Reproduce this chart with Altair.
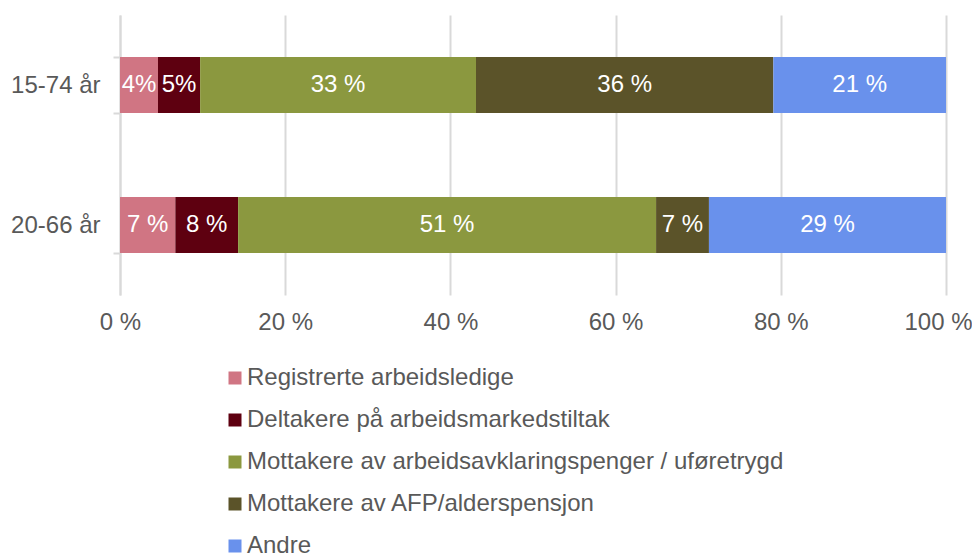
import altair as alt
import pandas as pd

groups = ["15-74 år", "20-66 år"]
categories = [
    "Registrerte arbeidsledige",
    "Deltakere på arbeidsmarkedstiltak",
    "Mottakere av arbeidsavklaringspenger / uføretrygd",
    "Mottakere av AFP/alderspensjon",
    "Andre",
]
colors = ["#D07583", "#5E0010", "#8B983F", "#5B5329", "#6991EC"]
values_15_74 = [4.6, 5.1, 33.4, 36.0, 20.9]
values_20_66 = [6.7, 7.6, 50.6, 6.4, 28.7]
labels_15_74 = ["4%", "5%", "33 %", "36 %", "21 %"]
labels_20_66 = ["7 %", "8 %", "51 %", "7 %", "29 %"]
x_ticks = [0, 20, 40, 60, 80, 100]

rows = []
for g, vals, labs in [(groups[0], values_15_74, labels_15_74), (groups[1], values_20_66, labels_20_66)]:
    for i, (c, v, l) in enumerate(zip(categories, vals, labs)):
        rows.append({"group": g, "category": c, "value": v, "label": l, "order": i})
df = pd.DataFrame(rows)

FONT = "Liberation Sans"
GRAY = "#595959"
FS = 24

base = alt.Chart(df).transform_stack(
    stack="value", groupby=["group"], as_=["start", "end"],
    sort=[alt.SortField("order", order="ascending")]
).transform_calculate(mid="(datum.start + datum.end) / 2")

y_enc = alt.Y(
    "group:N", sort=groups, title=None,
    scale=alt.Scale(paddingInner=0.6, paddingOuter=0.3),
    axis=alt.Axis(
        labelFontSize=FS, labelColor=GRAY, labelFont=FONT,
        domainColor="#d9d9d9", domainWidth=2,
        tickBand="extent", tickColor="#d9d9d9", tickSize=7, tickWidth=2,
        labelPadding=13, grid=False,
    ),
)

bars = base.mark_bar().encode(
    x=alt.X(
        "start:Q", title=None,
        scale=alt.Scale(domain=[0, 100], nice=False),
        axis=alt.Axis(
            values=x_ticks, labelExpr="datum.value + ' %'",
            labelFontSize=FS, labelColor=GRAY, labelFont=FONT,
            domain=False, ticks=False, labelPadding=15, labelFlush=False,
            labelOffset={"condition": {"test": "datum.value == 100", "value": -8}, "value": 0},
            grid=True, gridColor="#d9d9d9", gridWidth=2,
        ),
    ),
    x2="end:Q",
    y=y_enc,
    color=alt.Color(
        "category:N",
        scale=alt.Scale(domain=categories, range=colors),
        legend=alt.Legend(
            title=None, orient="none", legendX=103, legendY=351,
            direction="vertical", symbolType="square", symbolSize=169,
            symbolStrokeWidth=0, labelFontSize=FS, labelColor=GRAY, labelFont=FONT,
            rowPadding=18, labelOffset=0, padding=0, labelLimit=800,
        ),
    ),
)

texts = base.mark_text(color="white", fontSize=FS, font=FONT).encode(
    x=alt.X("mid:Q"),
    y=alt.Y("group:N", sort=groups),
    text="label:N",
)

chart = alt.layer(bars, texts).properties(
    width=826, height=280,
    autosize=alt.AutoSizeParams(type="none"),
    padding={"left": 112, "top": 7, "right": 26, "bottom": 259},
).configure_view(stroke=None)

chart.save("out.html", embed_options={"renderer": "svg", "actions": False})
